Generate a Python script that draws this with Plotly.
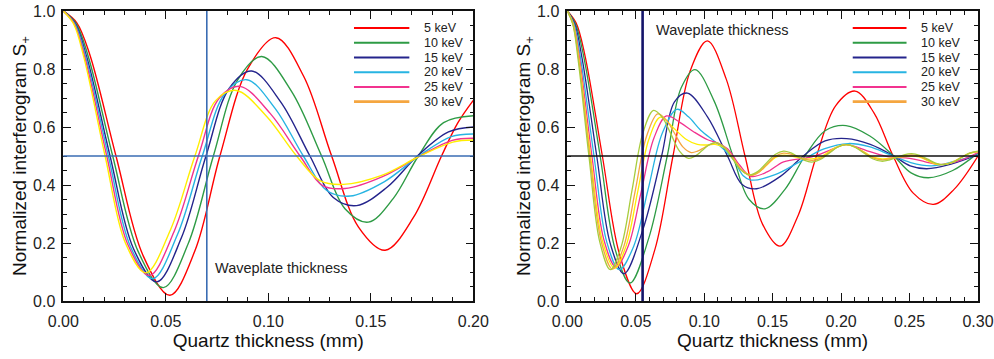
import plotly.graph_objects as go

# ---------------- data: left panel (0 - 0.20 mm) ----------------
L5_x = [0, .0065, .0129, .0257, .0389, .052, .0642, .0764, .0900, .1037, .1173, .1309, .1440, .157, .1708, .1845, .1925, .2]
L5_y = [1, .960, .850, .5, .157, .02, .173, .5, .801, .908, .774, .5, .255, .175, .288, .5, .615, .692]
L10_x = [0, .0061, .0121, .0241, .0365, .0488, .0610, .0732, .0850, .0968, .1114, .126, .1374, .1488, .1610, .1732, .1855, .2]
L10_y = [1, .958, .845, .5, .171, .046, .199, .5, .762, .843, .722, .5, .318, .272, .354, .5, .615, .639]
L15_x = [0, .0057, .0114, .0228, .0342, .0456, .0576, .0696, .0808, .0919, .1061, .1203, .1317, .1431, .1579, .1727, .1879, .2]
L15_y = [1, .958, .842, .5, .181, .066, .218, .5, .732, .793, .686, .5, .357, .329, .392, .5, .583, .600]
L20_x = [0, .0055, .0110, .0220, .0328, .0436, .0557, .0678, .0787, .0895, .1033, .1171, .1285, .1399, .1567, .1735, .1892, .2]
L20_y = [1, .957, .840, .5, .187, .077, .229, .5, .714, .763, .664, .5, .381, .362, .412, .5, .567, .576]
L25_x = [0, .0053, .0106, .0212, .0316, .0420, .0540, .0659, .0761, .0862, .1009, .1155, .1265, .1374, .1557, .1740, .1897, .2]
L25_y = [1, .956, .838, .5, .193, .088, .239, .5, .700, .740, .647, .5, .398, .388, .429, .5, .554, .561]
L30_x = [0, .0051, .0102, .0204, .0304, .0403, .0523, .0642, .0743, .0844, .0991, .1138, .1252, .1366, .1553, .1740, .1900, .2]
L30_y = [1, .955, .836, .5, .198, .097, .246, .5, .691, .726, .637, .5, .415, .402, .433, .5, .548, .555]

# ---------------- data: right panel (0 - 0.30 mm) ----------------
R5_x = [0, .0064, .0128, .0256, .0382, .0507, .0640, .0772, .0898, .1023, .1161, .1298, .1426, .1554, .1687, .1820, .1961, .2102, .2241, .2380, .2527, .2674, .2825, .3]
R5_y = [1, .959, .849, .5, .160, .025, .178, .5, .794, .897, .765, .5, .265, .189, .296, .5, .674, .724, .648, .5, .372, .333, .385, .5]
R10_x = [0, .006, .012, .024, .0349, .0458, .0594, .073, .0832, .0933, .1072, .121, .1327, .1444, .159, .1736, .1886, .2036, .221, .2385, .2511, .2637, .2815, .3]
R10_y = [1, .955, .843, .5, .179, .062, .215, .5, .735, .798, .690, .5, .351, .318, .385, .5, .588, .605, .569, .5, .442, .425, .45, .51]
R15_x = [0, .0054, .0108, .0215, .0315, .0414, .0552, .0689, .0783, .0877, .1024, .117, .1277, .1383, .1554, .1724, .1883, .2041, .2213, .2385, .2505, .2625, .2803, .3]
R15_y = [1, .955, .837, .5, .196, .094, .246, .5, .687, .717, .635, .5, .402, .387, .429, .5, .552, .560, .540, .5, .466, .456, .472, .505]
R20_x = [0, .0049, .0098, .0195, .0288, .038, .0485, .059, .0695, .080, .0885, .0974, .1096, .121, .1285, .134, .1518, .1697, .1875, .2053, .2205, .2357, .2508, .266, .283, .3]
R20_y = [1, .955, .834, .5, .204, .108, .189, .3845, .58, .661, .635, .589, .543, .49, .432, .417, .4355, .48, .5245, .543, .532, .5045, .4773, .466, .482, .505]
R25_x = [0, .0045, .009, .018, .0268, .0355, .0448, .054, .0633, .0725, .0825, .0925, .1025, .1095, .117, .126, .134, .146, .158, .1785, .192, .2036, .219, .235, .25, .2615, .272, .287, .3]
R25_y = [1, .955, .835, .5, .21, .117, .193, .3775, .562, .638, .615, .583, .556, .545, .525, .468, .43, .445, .48, .497, .52, .539, .518, .497, .492, .480, .470, .485, .512]
R30_x = [0, .0043, .0085, .017, .0258, .0345, .0429, .0513, .0596, .068, .078, .087, .095, .102, .108, .115, .1215, .128, .134, .14, .146, .152, .158, .1635, .168, .173, .178, .1845, .191, .1975, .2036, .21, .2166, .223, .23, .2405, .2515, .257, .2625, .268, .273, .2805, .287, .2935, .3]
R30_y = [1, .955, .834, .5, .205, .113, .1893, .3735, .5577, .634, .595, .557, .540, .538, .540, .527, .49, .449, .434, .445, .470, .495, .503, .500, .495, .490, .49, .495, .5145, .532, .539, .531, .5145, .497, .49, .495, .50, .497, .4855, .474, .47, .477, .4925, .5085, .515]
R35_x = [0, .0041, .0083, .0165, .0248, .033, .0413, .0495, .0578, .066, .0721, .0783, .0844, .0905, .0951, .0998, .1044, .109, .1153, .1215, .1278, .134, .14, .146, .152, .158, .1633, .1685, .1738, .179, .1852, .1913, .1975, .2036, .2101, .2166, .223, .2295, .235, .2405, .246, .2515, .2571, .2628, .2684, .274, .2805, .287, .2935, .3]
R35_y = [1, .955, .834, .5, .205, .11, .1884, .3775, .5666, .645, .6255, .5785, .5315, .512, .5168, .5285, .5402, .545, .5286, .489, .4494, .433, .4443, .4715, .4987, .510, .5063, .4975, .4887, .485, .4929, .512, .5311, .539, .5314, .513, .4946, .487, .4895, .4955, .5015, .504, .499, .487, .475, .470, .4767, .493, .5093, .516]
R40_x = [0, .004, .0079, .0158, .0237, .0315, .0394, .0473, .0551, .063, .0694, .0758, .0821, .0885, .0935, .0985, .1035, .1085, .1146, .1208, .1269, .133, .1393, .1455, .1518, .158, .1631, .1683, .1734, .1785, .1848, .1911, .1973, .2036, .2101, .2166, .223, .2295, .235, .2405, .246, .2515, .2573, .2632, .269, .2748, .2811, .2874, .2937, .3]
R40_y = [1, .955, .832, .5, .204, .108, .188, .3825, .577, .657, .633, .5745, .516, .492, .5, .519, .538, .546, .5297, .4905, .4513, .435, .447, .476, .505, .517, .5114, .498, .4846, .479, .4878, .509, .5302, .539, .5306, .5105, .4904, .482, .4858, .495, .5042, .508, .5024, .489, .4756, .470, .477, .4935, .51, .517]

LEGEND_LABELS = ["5 keV", "10 keV", "15 keV", "20 keV", "25 keV", "30 keV"]
LEGEND_COLORS = ["#ff0000", "#2e9b45", "#24248c", "#27b4e2", "#f2338f", "#f5a640"]

LEFT_SERIES = [(L5_x, L5_y, "#ff0000"), (L10_x, L10_y, "#2e9b45"), (L15_x, L15_y, "#24248c"),
               (L20_x, L20_y, "#27b4e2"), (L25_x, L25_y, "#f2338f"), (L30_x, L30_y, "#ffee00")]
RIGHT_SERIES = [(R5_x, R5_y, "#ff0000"), (R10_x, R10_y, "#2e9b45"), (R15_x, R15_y, "#24248c"),
                (R20_x, R20_y, "#27b4e2"), (R25_x, R25_y, "#f2338f"), (R30_x, R30_y, "#ffee00"),
                (R35_x, R35_y, "#f5a640"), (R40_x, R40_y, "#a8cc3c")]

WAVEPLATE_LEFT = 0.07
WAVEPLATE_RIGHT = 0.055
LEVEL = 0.5

FONT = "Liberation Sans, Arial, Helvetica, sans-serif"

fig = go.Figure()
for xs, ys, c in LEFT_SERIES:
    fig.add_trace(go.Scatter(x=xs, y=ys, mode="lines", xaxis="x", yaxis="y",
                             line=dict(color=c, width=1.4, shape="spline", smoothing=1),
                             showlegend=False, hoverinfo="skip"))
for xs, ys, c in RIGHT_SERIES:
    fig.add_trace(go.Scatter(x=xs, y=ys, mode="lines", xaxis="x2", yaxis="y2",
                             line=dict(color=c, width=1.3, shape="spline", smoothing=1),
                             showlegend=False, hoverinfo="skip"))

shapes = [
    dict(type="line", xref="x", yref="y domain", x0=WAVEPLATE_LEFT, x1=WAVEPLATE_LEFT, y0=0, y1=1,
         line=dict(color="#3a6cb3", width=1.6), layer="above"),
    dict(type="line", xref="x domain", yref="y", x0=0, x1=1, y0=LEVEL, y1=LEVEL,
         line=dict(color="#3a6cb3", width=1.6), layer="above"),
    dict(type="line", xref="x2", yref="y2 domain", x0=WAVEPLATE_RIGHT, x1=WAVEPLATE_RIGHT, y0=0, y1=1,
         line=dict(color="#14146a", width=2.6), layer="above"),
    dict(type="line", xref="x2 domain", yref="y2", x0=0, x1=1, y0=LEVEL, y1=LEVEL,
         line=dict(color="#111111", width=1.6), layer="above"),
]
annotations = [
    dict(text="Waveplate thickness", xref="x domain", yref="y domain", x=0.366, y=0.114,
         xanchor="left", yanchor="middle", showarrow=False, font=dict(size=14.5, color="#222", family=FONT)),
    dict(text="Waveplate thickness", xref="x2 domain", yref="y2 domain", x=0.211, y=0.936,
         xanchor="left", yanchor="middle", showarrow=False, font=dict(size=14.5, color="#222", family=FONT)),
]
# legends drawn in each panel
for ax, lx0, lx1, tx in (("", 0.709, 0.844, 0.874), ("2", 0.695, 0.826, 0.857)):
    for i, (lab, col) in enumerate(zip(LEGEND_LABELS, LEGEND_COLORS)):
        yy = 0.941 - i * 0.0507
        shapes.append(dict(type="line", xref=f"x{ax} domain", yref=f"y{ax} domain",
                           x0=lx0, x1=lx1, y0=yy, y1=yy,
                           line=dict(color=col, width=2.6 if i == 5 else 2.0)))
        annotations.append(dict(text=lab, xref=f"x{ax} domain", yref=f"y{ax} domain", x=tx, y=yy,
                                xanchor="left", yanchor="middle", showarrow=False,
                                font=dict(size=12.5, color="#222", family=FONT)))

def xaxis_style(rng, dom, anchor):
    return dict(domain=dom, range=rng, anchor=anchor, dtick=0.05, tick0=0, tickformat=".2f",
                ticks="inside", ticklen=8, tickwidth=1.4, tickcolor="#111", showline=True,
                linecolor="#111", linewidth=1.5, mirror="allticks", showgrid=False, zeroline=False,
                automargin=False,
                minor=dict(dtick=0.01, ticks="inside", ticklen=4, tickwidth=1.2, tickcolor="#111"),
                tickfont=dict(size=16, color="#222", family=FONT), ticklabelstandoff=5,
                title=dict(text="Quartz thickness (mm)", font=dict(size=19, color="#111", family=FONT), standoff=5))

def yaxis_style(dom, anchor):
    return dict(domain=dom, range=[0, 1], anchor=anchor, dtick=0.2, tick0=0, tickformat=".1f",
                ticks="inside", ticklen=8, tickwidth=1.4, tickcolor="#111", showline=True,
                linecolor="#111", linewidth=1.5, mirror="allticks", showgrid=False, zeroline=False,
                automargin=False,
                minor=dict(dtick=0.05, ticks="inside", ticklen=4, tickwidth=1.2, tickcolor="#111"),
                tickfont=dict(size=16, color="#222", family=FONT), ticklabelstandoff=3,
                title=dict(text="Normalized interferogram S<sub>+</sub>",
                           font=dict(size=19, color="#111", family=FONT), standoff=1))

YDOM = [1 - 301 / 359, 1 - 11 / 359]
fig.update_layout(
    width=994, height=359, margin=dict(l=0, r=0, t=0, b=0, autoexpand=False),
    paper_bgcolor="white", plot_bgcolor="white", showlegend=False,
    font=dict(family=FONT),
    xaxis=xaxis_style([0, 0.2], [63.3 / 994, 473.3 / 994], "y"),
    yaxis=yaxis_style(YDOM, "x"),
    xaxis2=xaxis_style([0, 0.3], [567.3 / 994, 978 / 994], "y2"),
    yaxis2=yaxis_style(YDOM, "x2"),
    shapes=shapes, annotations=annotations,
)
fig.write_html("out.html")
